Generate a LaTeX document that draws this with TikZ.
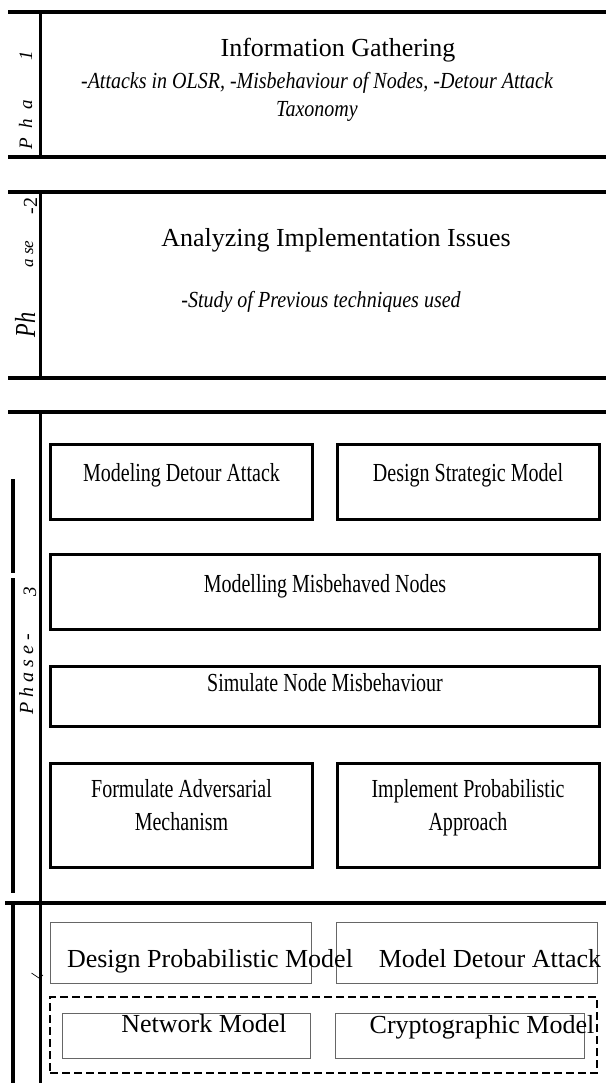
\documentclass[tikz,border=0pt]{standalone}
\usepackage{fontspec}
\setmainfont{Liberation Serif}
\newfontfamily\narrowserif[FakeStretch=0.77]{Liberation Serif}
\newfontfamily\slimserif[FakeStretch=0.87]{Liberation Serif}
\usetikzlibrary{positioning}

\begin{document}
\begin{tikzpicture}[x=1pt,y=-1pt,
				every node/.style={inner sep=0pt,outer sep=0pt},
				rule/.style={line width=4pt},
				spine/.style={line width=3pt},
				stage/.style={draw,rectangle,line width=3pt,minimum width=262pt},
				model/.style={draw=black!60,rectangle,line width=1pt},
				head/.style={font=\fontsize{26}{30}\selectfont,anchor=base},
				note/.style={font=\slimserif\fontsize{23}{28}\selectfont\itshape,align=center},
				steptext/.style={font=\narrowserif\fontsize{26}{33}\selectfont,align=center},
				modeltext/.style={font=\fontsize{26}{30}\selectfont,anchor=base},
				phasetag/.style={rotate=90,anchor=base,font=\fontsize{19}{22}\selectfont\itshape}]
				\useasboundingbox (0,0) rectangle (606,1083);
				
				% phase frames
				\draw[rule] (8,12) -- (606,12) (8,157) -- (606,157)
					(8,192) -- (606,192) (8,378) -- (606,378)
					(8,412) -- (606,412) (5,903) -- (606,903);
				\draw[spine] (40,12) -- (40,157) (40,192) -- (40,378) (40,412) -- (40,1083);
				\draw[line width=4.5pt] (13,479) -- (13,573) (13,578) -- (13,893) (13,903) -- (13,1083);
				\draw[line width=0.7pt] (31.5,973) -- (39,978) -- (43,975);
				
				% phase labels
				\node[phasetag] (TAG1)  at (32,125) {P\enspace h\enspace a};
				\node[phasetag] (NUM1)  at (32,56)  {1};
				\node[phasetag,font=\narrowserif\fontsize{29}{31}\selectfont\itshape] (TAG2A) at (35,325) {Ph};
				\node[phasetag,font=\fontsize{17}{20}\selectfont\itshape] (TAG2B) at (33,254) {a se};
				\node[phasetag,font=\fontsize{20}{22}\selectfont] (NUM2) at (37,206) {-2};
				\node[phasetag,font=\fontsize{20}{22}\selectfont\itshape] (TAG3) at (33,674) {P h a s e -};
				\node[phasetag] (NUM3)  at (36,592) {3};
				
				% phase 1 and 2
				\node[head] (GATHER) at (338,57) {Information Gathering};
				\node[note,anchor=north] (GATHERNOTE) at (317,72)
					{-Attacks in OLSR, -Misbehaviour of Nodes, -Detour Attack\\Taxonomy};
				\node[head] (ISSUES) at (336,247) {Analyzing Implementation Issues};
				\node[note,anchor=base] (ISSUESNOTE) at (321,307) {-Study of Previous techniques used};
				
				% phase 3
				\node[stage,minimum height=75pt] (DETOUR) at (181.5,482) {};
				\node[stage,minimum height=75pt] (STRATEGY) [right=24.5pt of DETOUR] {};
				\node[stage,minimum width=549pt,minimum height=75pt] (MISBEHAVE) [below=35pt of DETOUR.south west,anchor=north west] {};
				\node[stage,minimum width=549pt,minimum height=60pt] (SIMULATE) [below=37pt of MISBEHAVE] {};
				\node[stage,minimum height=104pt] (ADVERSARY) [below=37pt of SIMULATE.south west,anchor=north west] {};
				\node[stage,minimum height=104pt] (APPROACH) [right=24.5pt of ADVERSARY] {};
				
				\node[steptext] (DETOURT)    [below=18.7pt of DETOUR.north]    {Modeling Detour Attack};
				\node[steptext] (STRATEGYT)  [below=18.7pt of STRATEGY.north]  {Design Strategic Model};
				\node[steptext] (MISBEHAVET) [below=19.7pt of MISBEHAVE.north] {Modelling Misbehaved Nodes};
				\node[steptext] (SIMULATET)  [below=6.7pt of SIMULATE.north]   {Simulate Node Misbehaviour};
				\node[steptext] (ADVERSARYT) [below=15.7pt of ADVERSARY.north] {Formulate Adversarial\\Mechanism};
				\node[steptext] (APPROACHT)  [below=15.7pt of APPROACH.north]  {Implement Probabilistic\\Approach};
				
				% phase 4
				\node[model,minimum width=261pt,minimum height=61pt] (PROB) at (180.5,952.5) {};
				\node[model,minimum width=261pt,minimum height=61pt] (ATTACK) [right=25pt of PROB] {};
				\node[draw,rectangle,line width=2pt,dash pattern=on 8pt off 4pt,minimum width=547pt,minimum height=76pt] (FRAME) at (323.5,1035) {};
				\node[model,minimum width=248pt,minimum height=45pt] (NETWORK) at (186,1035.5) {};
				\node[model,minimum width=248.5pt,minimum height=45pt] (CRYPTO) [right=25.5pt of NETWORK] {};
				
				\node[modeltext] (PROBT)    at (210,967)  {Design Probabilistic Model};
				\node[modeltext] (ATTACKT)  at (490,967)  {Model Detour Attack};
				\node[modeltext] (NETWORKT) at (204,1032) {Network Model};
				\node[modeltext] (CRYPTOT)  at (482,1033) {Cryptographic Model};
			\end{tikzpicture}
\end{document}
